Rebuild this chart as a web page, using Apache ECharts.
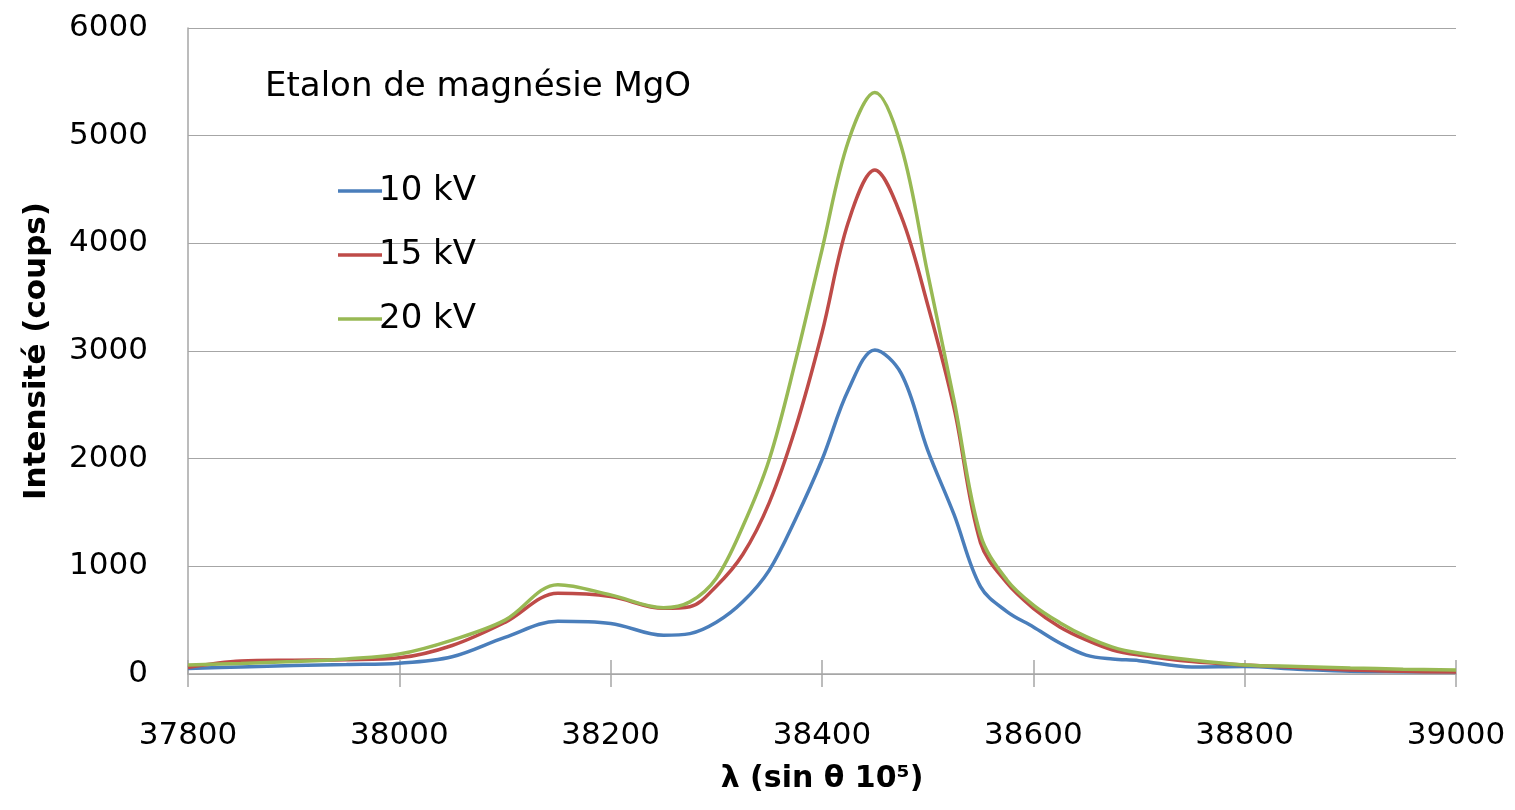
<!DOCTYPE html>
<html>
<head>
<meta charset="utf-8">
<script src="https://cdn.jsdelivr.net/npm/echarts@6/dist/echarts.min.js"></script>
<style>
  html, body { margin: 0; padding: 0; background: #fff; }
  #chart { width: 1515px; height: 810px; }
</style>
</head>
<body>
<div id="chart"></div>
<script>
// longueur d'onde (sin theta 10^5)
const lambda = [37800, 37850, 37900, 37950, 38000, 38050, 38100, 38150, 38200, 38250,
  38275, 38300, 38325, 38350, 38375, 38400, 38425, 38450, 38475, 38500,
  38525, 38550, 38575, 38600, 38625, 38650, 38675, 38700, 38750, 38800,
  38850, 38900, 38950, 39000];

// intensité (coups) par tension
const kv10 = [50, 65, 78, 88, 100, 160, 340, 490, 470, 360,
  375, 480, 670, 963, 1440, 1990, 2640, 3010, 2790, 2080,
  1480, 811, 580, 437, 288, 176, 139, 124, 65, 70,
  45, 25, 22, 20];
const kv15 = [60, 120, 128, 132, 150, 265, 480, 750, 720, 610,
  625, 816, 1110, 1590, 2287, 3170, 4200, 4680, 4250, 3430,
  2470, 1220, 845, 610, 437, 316, 223, 176, 115, 84,
  60, 37, 25, 18];
const kv20 = [84, 98, 115, 140, 185, 315, 500, 830, 735, 616,
  670, 890, 1370, 1990, 2910, 3940, 4950, 5400, 4900, 3720,
  2540, 1290, 873, 640, 477, 347, 250, 195, 130, 84,
  70, 56, 45, 37];

const xTicks = [37800, 38000, 38200, 38400, 38600, 38800, 39000];
const yTicks = [0, 1000, 2000, 3000, 4000, 5000, 6000];

const FONT = 'DejaVu Sans';
const pairs = (ys) => lambda.map((x, i) => [x, ys[i]]);

const myChart = echarts.init(document.getElementById('chart'));

const mkSeries = (name, data, color) => ({
  name: name,
  type: 'line',
  data: pairs(data),
  smooth: 0.35,
  symbol: 'none',
  lineStyle: { color: color, width: 3.5 },
  itemStyle: { color: color },
  z: 3
});

const option = {
  animation: false,
  backgroundColor: '#ffffff',
  textStyle: { fontFamily: FONT },
  grid: { left: 188, right: 59, top: 28, bottom: 136, containLabel: false },
  graphic: [{
    type: 'text',
    left: 265,
    top: 70,
    style: { text: 'Etalon de magnésie MgO', font: '34px "DejaVu Sans"', fill: '#000' }
  }],
  legend: {
    orient: 'vertical',
    left: 333,
    top: 166,
    itemWidth: 44,
    itemHeight: 3.5,
    itemGap: 24,
    icon: 'rect',
    textStyle: { fontFamily: FONT, fontSize: 34, color: '#000', lineHeight: 40, padding: [0, 0, 0, -8] },
    data: ['10 kV', '15 kV', '20 kV']
  },
  xAxis: [{
    type: 'value',
    min: xTicks[0],
    max: xTicks[xTicks.length - 1],
    interval: 200,
    name: 'λ (sin θ 10⁵)',
    nameLocation: 'middle',
    nameGap: 90,
    nameTextStyle: { fontFamily: FONT, fontSize: 30, fontWeight: 'bold', color: '#000' },
    axisLine: { show: true, lineStyle: { color: '#a6a6a6', width: 1.5 } },
    axisTick: { show: true, inside: false, length: 13, lineStyle: { color: '#a6a6a6', width: 1.5 } },
    axisLabel: { fontFamily: FONT, fontSize: 31, color: '#000', margin: 46, formatter: (v) => String(v) },
    splitLine: { show: false }
  }, {
    // ticks croisés vers l'intérieur
    type: 'value',
    position: 'bottom',
    min: xTicks[0],
    max: xTicks[xTicks.length - 1],
    interval: 200,
    axisLine: { show: false },
    axisTick: { show: true, inside: true, length: 14, lineStyle: { color: '#a6a6a6', width: 1.5 } },
    axisLabel: { show: false },
    splitLine: { show: false }
  }],
  yAxis: {
    type: 'value',
    min: yTicks[0],
    max: yTicks[yTicks.length - 1],
    interval: 1000,
    name: 'Intensité (coups)',
    nameLocation: 'middle',
    nameGap: 136,
    nameTextStyle: { fontFamily: FONT, fontSize: 31, fontWeight: 'bold', color: '#000' },
    axisLine: { show: true, lineStyle: { color: '#a6a6a6', width: 1.5 } },
    axisTick: { show: false },
    axisLabel: { fontFamily: FONT, fontSize: 31, color: '#000', margin: 40, formatter: (v) => String(v) },
    splitLine: { show: true, lineStyle: { color: '#a6a6a6', width: 1.2 } }
  },
  series: [
    mkSeries('10 kV', kv10, '#4a7ebb'),
    mkSeries('15 kV', kv15, '#be4b48'),
    mkSeries('20 kV', kv20, '#98b954')
  ]
};

myChart.setOption(option);
</script>
</body>
</html>
